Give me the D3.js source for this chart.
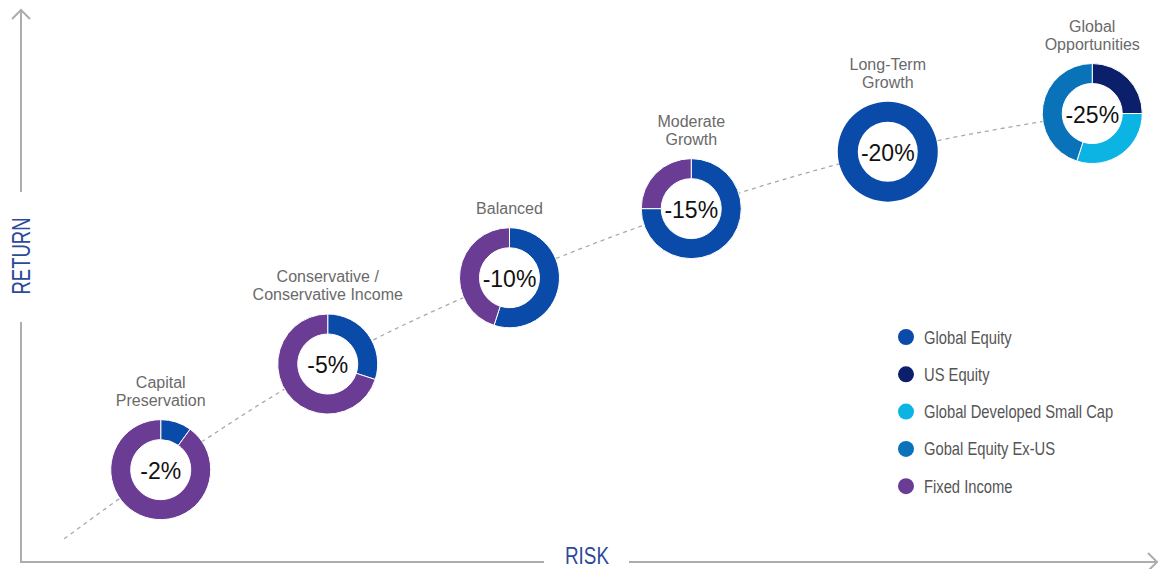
<!DOCTYPE html>
<html>
<head>
<meta charset="utf-8">
<script src="https://cdn.jsdelivr.net/npm/d3@7"></script>
<style>
  html, body { margin: 0; padding: 0; background: #fff; }
  svg { display: block; }
</style>
</head>
<body>
<svg id="chart" width="1158" height="569"></svg>
<script>
// Portfolios, ordered by increasing risk
const portfolios = [
  ["Capital", "Preservation"],
  ["Conservative /", "Conservative Income"],
  ["Balanced"],
  ["Moderate", "Growth"],
  ["Long-Term", "Growth"],
  ["Global", "Opportunities"]
];
const downside = [-2, -5, -10, -15, -20, -25];

// Relative position on the risk / return plane (0–100)
const riskLevel   = [12.3, 27.0, 43.0, 59.0, 76.3, 94.3];
const returnLevel = [16.7, 35.8, 51.4, 63.9, 74.2, 81.1];
const trendStart  = [3.8, 4.2];

// Asset classes and their allocation (%) per portfolio
const assetClasses = ["Global Equity", "US Equity", "Global Developed Small Cap", "Gobal Equity Ex-US", "Fixed Income"];
const assetColors  = ["#0a4aa8", "#0b1f6b", "#0cb4e4", "#0a72b9", "#6a3c94"];
const globalEquity   = [10, 30, 55, 75, 100, 0];
const usEquity       = [0, 0, 0, 0, 0, 25];
const smallCap       = [0, 0, 0, 0, 0, 30];
const equityExUS     = [0, 0, 0, 0, 0, 45];
const fixedIncome    = [90, 70, 45, 25, 0, 0];

const svg = d3.select("#chart");

const x = d3.scaleLinear().domain([0, 100]).range([21, 1157]);
const y = d3.scaleLinear().domain([0, 100]).range([562, 9]);

const axisColor = "#adadad";
const titleColor = "#2c4a9a";
const sans = "'Liberation Sans', Arial, Helvetica, sans-serif";
const narrowX = 0.82; // horizontal squeeze for the condensed captions

// ---- Axes ----
const axes = svg.append("g").attr("stroke", axisColor).attr("stroke-width", 2).attr("fill", "none");
// vertical axis, split around the RETURN title
axes.append("line").attr("x1", x(0)).attr("x2", x(0)).attr("y1", y(100) + 1).attr("y2", 192);
axes.append("line").attr("x1", x(0)).attr("x2", x(0)).attr("y1", 322).attr("y2", y(0));
axes.append("path").attr("d", `M${x(0) - 9},${y(100) + 10} L${x(0)},${y(100) + 1} L${x(0) + 9},${y(100) + 10}`);
// horizontal axis, split around the RISK title
axes.append("line").attr("x1", x(0) - 1).attr("x2", 544).attr("y1", y(0)).attr("y2", y(0));
axes.append("line").attr("x1", 629).attr("x2", x(100)).attr("y1", y(0)).attr("y2", y(0));
axes.append("path").attr("d", `M${x(100) - 9},${y(0) - 9} L${x(100)},${y(0)} L${x(100) - 9},${y(0) + 9}`);

svg.append("text")
  .attr("transform", `translate(${x(0) + 9},${256}) rotate(-90)`)
  .attr("text-anchor", "middle")
  .attr("font-family", sans)
  .attr("font-size", 26)
  .attr("fill", titleColor)
  .attr("textLength", 77)
  .attr("lengthAdjust", "spacingAndGlyphs")
  .text("RETURN");

svg.append("text")
  .attr("x", 587).attr("y", 564)
  .attr("text-anchor", "middle")
  .attr("font-family", sans)
  .attr("font-size", 24)
  .attr("fill", titleColor)
  .attr("textLength", 44)
  .attr("lengthAdjust", "spacingAndGlyphs")
  .text("RISK");

// ---- Dashed trend line through the portfolios ----
const trendPts = [trendStart].concat(riskLevel.map((r, i) => [r, returnLevel[i]]));
svg.append("path")
  .datum(trendPts)
  .attr("fill", "none")
  .attr("stroke", "#a9a9a9")
  .attr("stroke-width", 1.3)
  .attr("stroke-dasharray", "4,4")
  .attr("d", d3.line().x(d => x(d[0])).y(d => y(d[1])).curve(d3.curveMonotoneX));

// ---- Donuts ----
const outerR = 50, innerR = 30;
const pie = d3.pie().sort(null).value(d => d.value);
const arc = d3.arc().innerRadius(innerR).outerRadius(outerR);
const series = [globalEquity, usEquity, smallCap, equityExUS, fixedIncome];

portfolios.forEach((label, i) => {
  const g = svg.append("g").attr("transform", `translate(${x(riskLevel[i])},${y(returnLevel[i])})`);
  g.append("circle").attr("r", innerR).attr("fill", "#fff");

  const slices = series.map((s, k) => ({ value: s[i], color: assetColors[k] })).filter(d => d.value > 0);
  g.selectAll("path.slice")
    .data(pie(slices))
    .join("path")
    .attr("class", "slice")
    .attr("d", arc)
    .attr("fill", d => d.data.color)
    .attr("stroke", slices.length > 1 ? "#fff" : "none")
    .attr("stroke-width", 1);

  g.append("text")
    .attr("y", 9)
    .attr("text-anchor", "middle")
    .attr("font-family", sans)
    .attr("font-size", 23)
    .attr("fill", "#111")
    .text(downside[i] + "%");

  const lines = label;
  g.append("text")
    .attr("text-anchor", "middle")
    .attr("font-family", sans)
    .attr("font-size", 16)
    .attr("fill", "#6a6a6a")
    .selectAll("tspan")
    .data(lines)
    .join("tspan")
    .attr("x", 0)
    .attr("y", (d, j) => -64 - (lines.length - 1 - j) * 18)
    .text(d => d);
});

// ---- Legend ----
const legend = svg.append("g").attr("transform", "translate(906,337)");
assetClasses.forEach((name, k) => {
  const row = legend.append("g").attr("transform", `translate(0,${k * 37.3})`);
  row.append("circle").attr("r", 8).attr("fill", assetColors[k]);
  row.append("text")
    .attr("transform", `translate(18,6.5) scale(${narrowX},1)`)
    .attr("font-family", sans)
    .attr("font-size", 18)
    .attr("fill", "#555")
    .text(name);
});
</script>
</body>
</html>
